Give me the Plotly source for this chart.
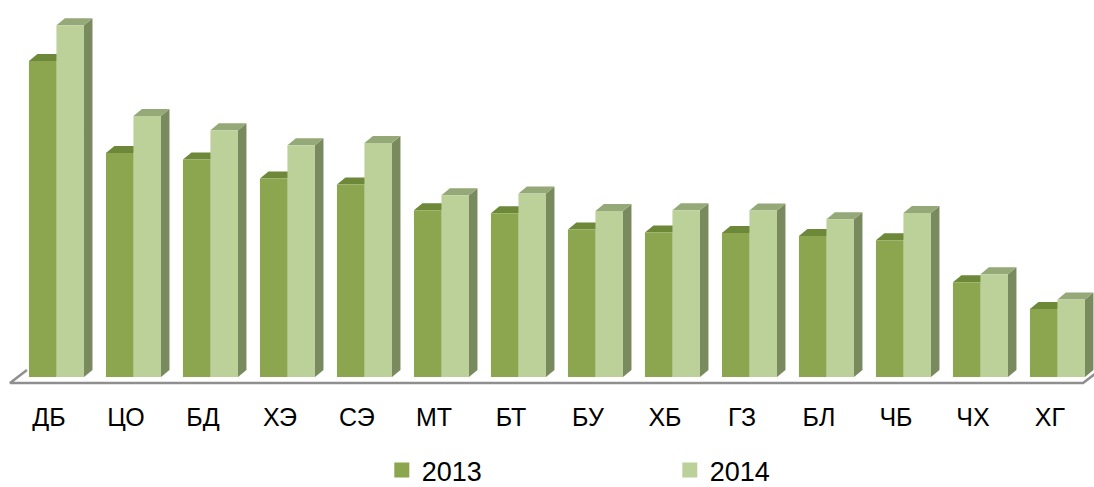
import plotly.graph_objects as go

# ---- data (relative values) ----
categories = ["ДБ", "ЦО", "БД", "ХЭ", "СЭ", "МТ", "БТ", "БУ", "ХБ", "ГЗ", "БЛ", "ЧБ", "ЧХ", "ХГ"]
series_names = ["2013", "2014"]
values_2013 = [316.0, 224.0, 217.4, 198.4, 192.4, 166.7, 163.7, 147.4, 144.4, 144.0, 141.0, 136.7, 94.7, 68.0]
values_2014 = [351.7, 261.0, 246.7, 231.7, 234.0, 181.7, 183.4, 166.0, 166.7, 166.4, 157.7, 164.0, 102.7, 77.4]

# ---- styling / geometry constants ----
FONT = "Liberation Sans, Arial, sans-serif"
COLORS = {
    "2013": {"front": "#8BA64F", "top": "#6C8838", "side": "#6C8838"},
    "2014": {"front": "#BCD09A", "top": "#95A877", "side": "#7A8A5F"},
}
BAR_OFFSETS = {"2013": (-0.26, 0.097), "2014": (0.097, 0.455)}  # x0,x1 relative to category
DEPTH_X = 0.11
DEPTH_Y = 7.0
FLOOR_FRONT_Y = -6.0
FLOOR_BACK_Y = 7.0
FLOOR_LEFT = -0.506
FLOOR_RIGHT = 13.43
FLOOR_SLANT_X = 0.22

fig = go.Figure()


def add_faces(name, vals):
    c = COLORS[name]
    o0, o1 = BAR_OFFSETS[name]
    fx, fy, tx, ty, sx, sy = [], [], [], [], [], []
    for i, h in enumerate(vals):
        x0, x1 = i + o0, i + o1
        fx += [x0, x1, x1, x0, x0, None]
        fy += [0, 0, h, h, 0, None]
        tx += [x0, x1, x1 + DEPTH_X, x0 + DEPTH_X, x0, None]
        ty += [h, h, h + DEPTH_Y, h + DEPTH_Y, h, None]
        sx += [x1, x1 + DEPTH_X, x1 + DEPTH_X, x1, x1, None]
        sy += [0, DEPTH_Y, h + DEPTH_Y, h, 0, None]
    for xs, ys, col in ((sx, sy, c["side"]), (tx, ty, c["top"]), (fx, fy, c["front"])):
        fig.add_trace(go.Scatter(x=xs, y=ys, mode="lines", fill="toself", fillcolor=col,
                                 line=dict(width=0, color=col), hoverinfo="skip",
                                 showlegend=False))


# floor
fig.add_trace(go.Scatter(
    x=[FLOOR_LEFT + FLOOR_SLANT_X, FLOOR_LEFT, FLOOR_RIGHT, FLOOR_RIGHT + FLOOR_SLANT_X],
    y=[FLOOR_BACK_Y, FLOOR_FRONT_Y, FLOOR_FRONT_Y, FLOOR_BACK_Y],
    mode="lines", line=dict(color="#8F8F8F", width=2.5), hoverinfo="skip", showlegend=False))

add_faces("2013", values_2013)
add_faces("2014", values_2014)

# legend entries
for name in series_names:
    fig.add_trace(go.Scatter(x=[None], y=[None], mode="markers", name=name,
                             marker=dict(symbol="square", size=15, color=COLORS[name]["front"])))

fig.update_layout(
    width=1094, height=487,
    margin=dict(l=0, r=0, t=0, b=97, autoexpand=False),
    paper_bgcolor="white", plot_bgcolor="white",
    font=dict(family=FONT, color="black"),
    showlegend=True,
    legend=dict(orientation="h", xref="container", x=0.349, xanchor="left",
                yref="container", y=0.034, yanchor="middle",
                font=dict(size=27, family=FONT, color="black"),
                entrywidth=243, entrywidthmode="pixels", itemsizing="trace",
                tracegroupgap=0, borderwidth=0,
                bgcolor="rgba(0,0,0,0)"),
    xaxis=dict(range=[-0.636, 13.572], tickmode="array", tickvals=list(range(len(categories))),
               ticktext=categories, showgrid=False, zeroline=False, showline=False,
               tickfont=dict(size=25, family=FONT, color="black"), ticklabelstandoff=10,
               fixedrange=True),
    yaxis=dict(range=[-13, 377], visible=False, showgrid=False, zeroline=False, fixedrange=True),
)

fig.write_html("out.html")
